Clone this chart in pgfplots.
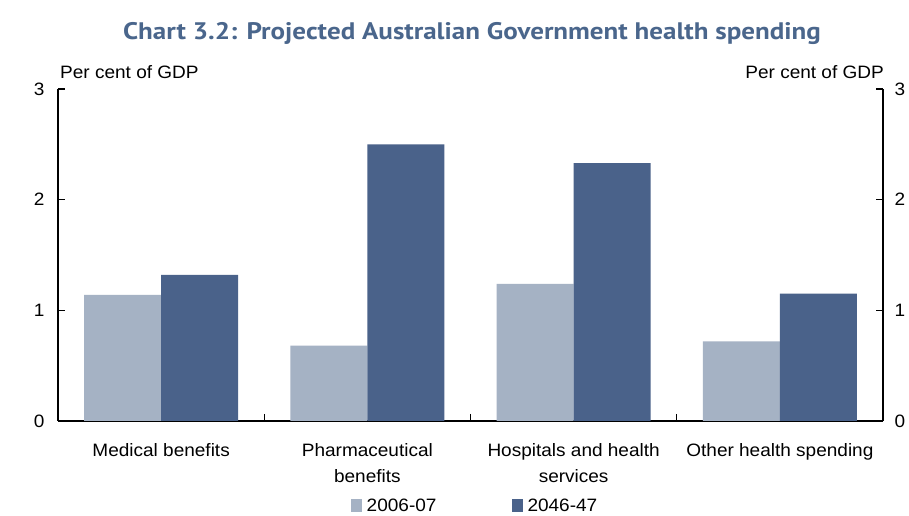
\documentclass[border=0pt]{standalone}
\usepackage{fontspec}
\setmainfont{Liberation Sans}[FakeStretch=1.06]
\newfontfamily\titlefont{PT Sans}[FakeStretch=1.13]
\usepackage{pgfplots}
\pgfplotsset{compat=1.18}
\definecolor{lightbar}{RGB}{165,178,196}
\definecolor{darkbar}{RGB}{74,98,138}
\definecolor{titleblue}{RGB}{74,102,140}
\pgfplotsset{
  common/.style={
    at={(0,0)}, anchor=south west,
    scale only axis, width=825bp, height=332bp,
    xmin=-0.5, xmax=3.5, ymin=0, ymax=3,
    ytick={0,1,2,3},
    /pgf/number format/assume math mode=true,
    every tick/.style={draw=black, line width=1.2bp},
    axis line style={line width=1.2bp},
    yticklabel style={font=\fontsize{18}{20}\selectfont},
  }
}
\begin{document}
\begin{tikzpicture}[x=1bp,y=1bp]
\path[use as bounding box] (-58,-95) rectangle (851,421);
\fill[white] (-58,-95) rectangle (851,421);
\begin{axis}[common,
  axis x line*=bottom, axis y line*=left,
  tick align=inside, major tick length=7bp,
  ybar=0pt, bar width=0.373,
  xtick={0,1,2,3},
  xticklabels={Medical benefits, Pharmaceutical\\benefits, Hospitals and health\\services, Other health spending},
  x tick label style={align=center, font=\fontsize{18}{26}\selectfont, anchor=north, yshift=-12bp},
  major x tick style={draw=none},
  extra x ticks={0.5,1.5,2.5}, extra x tick labels={},
  extra x tick style={major tick length=-7bp, major x tick style={draw=black, line width=1.2bp}},
  yticklabel style={xshift=-10bp},
  legend style={at={(417bp,-85bp)}, anchor=center, draw=none, fill=none,
    legend columns=-1, font=\fontsize{18}{20}\selectfont,
    /tikz/every even column/.append style={column sep=74bp},
    /tikz/every odd column/.append style={column sep=3bp},
    nodes={inner sep=1.5bp}},
  legend image code/.code={\fill[#1] (0bp,-6.5bp) rectangle (11bp,6.5bp);},
]
\addplot[fill=lightbar, draw=none] coordinates {(0,1.14) (1,0.68) (2,1.24) (3,0.72)};
\addplot[fill=darkbar, draw=none] coordinates {(0,1.32) (1,2.50) (2,2.33) (3,1.15)};
\legend{2006-07, 2046-47}
\end{axis}
\begin{axis}[common,
  axis x line=none, axis y line*=right,
  tick align=inside, major tick length=7bp,
  yticklabel style={xshift=8bp},
]
\end{axis}
\node[anchor=base west, font=\fontsize{18}{20}\selectfont, inner sep=0] at (2,342) {Per cent of GDP};
\node[anchor=base east, font=\fontsize{18}{20}\selectfont, inner sep=0] at (826,342) {Per cent of GDP};
\node[font=\titlefont\bfseries\fontsize{24}{26}\selectfont, text=titleblue] at (414,387) {Chart 3.2: Projected Australian Government health spending};
\end{tikzpicture}
\end{document}
